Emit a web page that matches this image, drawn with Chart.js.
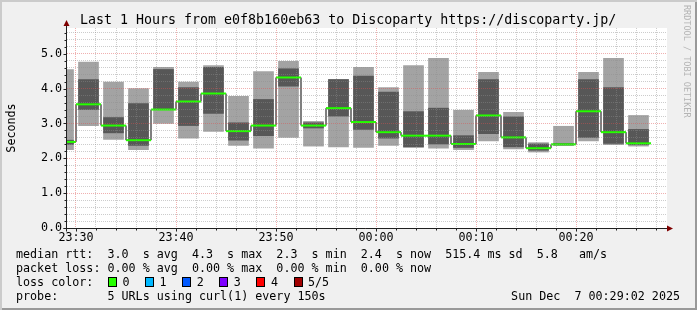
<!DOCTYPE html>
<html>
<head>
<meta charset="utf-8">
<script src="https://cdn.jsdelivr.net/npm/chart.js@4"></script>
<style>
html, body { margin: 0; padding: 0; background: #f0f0f0; }
#quadro { position: relative; width: 697px; height: 310px; background: #f0f0f0; overflow: hidden;
  font-family: "DejaVu Sans Mono", monospace; color: #000; }
#quadro:after { content: ''; position: absolute; left: 0; top: 0; right: 0; bottom: 0; pointer-events: none;
  box-shadow: inset 2px 2px 0 #cbcbcb, inset -2px -2px 0 #999; }
canvas { position: absolute; left: 0; top: 0; }
.txt { position: absolute; white-space: pre; font-size: 11.7px; line-height: 14px; }
.caixa { position: absolute; width: 7px; height: 8px; border: 1px solid #000; top: 277px; }
</style>
</head>
<body>
<div id="quadro">
  <canvas id="grafico" width="697" height="310"></canvas>
  <div class="txt" style="left:80px;top:12px;font-size:13.3px;line-height:16px">Last 1 Hours from e0f8b160eb63 to Discoparty https://discoparty.jp/</div>
  <div class="txt" style="left:-14px;top:121px;transform:rotate(-90deg);transform-origin:50% 50%;width:50px;text-align:center">Seconds</div>
  <div class="txt" style="left:682px;top:5px;font-size:8.5px;line-height:10px;color:#b4b4b4;writing-mode:vertical-rl">RRDTOOL / TOBI OETIKER</div>
  <div class="txt" style="left:16px;top:247px">median rtt:  3.0  s avg  4.3  s max  2.3  s min  2.4  s now  515.4 ms sd  5.8   am/s</div>
  <div class="txt" style="left:16px;top:261px">packet loss: 0.00 % avg  0.00 % max  0.00 % min  0.00 % now</div>
  <div class="txt" style="left:16px;top:275px">loss color:</div>
  <div id="perdas"></div>
  <div class="txt" style="left:16px;top:289px">probe:       5 URLs using curl(1) every 150s</div>
  <div class="txt" style="right:17px;top:289px">Sun Dec  7 00:29:02 2025</div>
</div>
<script>
// minutos depois das 23:00, inicio de cada coluna de 150s
const inicioColuna = [27.5, 30, 32.5, 35, 37.5, 40, 42.5, 45, 47.5, 50, 52.5, 55,
                      57.5, 60, 62.5, 65, 67.5, 70, 72.5, 75, 77.5, 80, 82.5, 85];
const fimUltima = 87.5;

// fumaca (segundos)
const claroMax = [4.55, 4.76, 4.19, 4.00, 4.61, 4.19, 4.66, 3.78, 4.49, 4.78, 3.06, 4.27,
                  4.61, 4.03, 4.66, 4.87, 3.38, 4.47, 3.32, 2.45, 2.92, 4.47, 4.87, 3.23];
const escuroMax = [2.52, 4.26, 3.17, 3.57, 4.55, 4.03, 4.61, 3.02, 3.69, 4.57, 3.02, 4.26,
                   4.36, 3.90, 3.34, 3.44, 2.65, 4.26, 3.19, 2.41, 2.42, 4.26, 4.03, 2.83];
const mediana = [2.47, 3.55, 2.94, 2.52, 3.40, 3.63, 3.86, 2.78, 2.94, 4.32, 2.94, 3.44,
                 3.04, 2.75, 2.65, 2.65, 2.41, 3.23, 2.60, 2.29, 2.40, 3.35, 2.75, 2.43];
const escuroMin = [2.40, 3.40, 2.73, 2.37, 3.40, 2.94, 3.29, 2.52, 2.65, 4.07, 2.87, 3.21,
                   2.83, 2.58, 2.33, 2.41, 2.31, 2.71, 2.33, 2.23, 2.38, 2.60, 2.43, 2.39];
const claroMin = [2.25, 2.94, 2.54, 2.25, 3.00, 2.58, 2.77, 2.37, 2.29, 2.60, 2.35, 2.33,
                  2.31, 2.37, 2.31, 2.29, 2.25, 2.50, 2.27, 2.18, 2.37, 2.50, 2.39, 2.35];

// eixo x
const horasValor = [30, 40, 50, 60, 70, 80];
const horasRotulo = ['23:30', '23:40', '23:50', '00:00', '00:10', '00:20'];

// legenda de perda
const perdaRotulo = ['0', '1', '2', '3', '4', '5/5'];
const perdaCor = ['#26ff00', '#00b8ff', '#0059ff', '#7e00ff', '#ff0000', '#a10000'];

const fonte = { family: 'DejaVu Sans Mono', size: 11.7 };
const corGrade = 'rgba(143,143,143,0.45)';
const corGradeMaior = 'rgba(222,80,80,0.45)';

let legenda = '';
perdaRotulo.forEach((r, i) => {
    const x = 108 + i * 37.1;
    legenda += '<span class="caixa" style="left:' + x + 'px;background:' + perdaCor[i] + '"></span>';
    legenda += '<span class="txt" style="left:' + (x + 14.5) + 'px;top:275px">' + r + '</span>';
});
document.getElementById('perdas').innerHTML = legenda;

const largura = 2.5;
const centro = inicioColuna.map(s => s + largura / 2);

const degrau = inicioColuna.map((s, i) => ({ x: s, y: mediana[i] }));
degrau.push({ x: fimUltima, y: mediana[mediana.length - 1] });

// so os tracos horizontais ficam verdes
const verde = [];
inicioColuna.forEach((s, i) => {
    verde.push({ x: s, y: mediana[i] });
    verde.push({ x: s + largura, y: mediana[i] });
});

const eixos = {
    id: 'eixos',
    beforeDraw(chart) {
        const { ctx, chartArea: a } = chart;
        ctx.save();
        ctx.fillStyle = '#fff';
        ctx.fillRect(a.left, a.top, a.right - a.left, a.bottom - a.top);
        ctx.restore();
    },
    afterDraw(chart) {
        const { ctx, chartArea: a, scales } = chart;
        const x0 = a.left - 0.5;
        const y0 = a.bottom + 0.5;
        ctx.save();
        ctx.strokeStyle = '#202020';
        ctx.lineWidth = 1;
        ctx.beginPath();
        scales.y.ticks.forEach(t => {
            const y = Math.round(scales.y.getPixelForValue(t.value)) + 0.5;
            const len = t.label ? 3 : 2;
            ctx.moveTo(x0 - len, y);
            ctx.lineTo(x0, y);
        });
        scales.x.ticks.forEach(t => {
            const x = Math.round(scales.x.getPixelForValue(t.value)) + 0.5;
            const len = t.label ? 3 : 2;
            ctx.moveTo(x, y0);
            ctx.lineTo(x, y0 + len);
        });
        ctx.moveTo(x0, y0 + 3);
        ctx.lineTo(x0, a.top - 2);
        ctx.moveTo(x0 - 3, y0);
        ctx.lineTo(a.right + 1, y0);
        ctx.stroke();
        ctx.fillStyle = '#7f0000';
        ctx.beginPath();
        ctx.moveTo(x0, a.top - 8);
        ctx.lineTo(x0 - 3, a.top - 2);
        ctx.lineTo(x0 + 3, a.top - 2);
        ctx.closePath();
        ctx.fill();
        ctx.beginPath();
        ctx.moveTo(a.right + 6, y0);
        ctx.lineTo(a.right, y0 - 3);
        ctx.lineTo(a.right, y0 + 3);
        ctx.closePath();
        ctx.fill();
        ctx.restore();
    }
};

const grafico = document.getElementById('grafico').getContext('2d');

new Chart(grafico, {
    type: 'bar',
    data: {
        datasets: [{
            type: 'line',
            data: verde,
            borderColor: perdaCor[0],
            borderWidth: 2,
            borderCapStyle: 'butt',
            pointRadius: 0,
            clip: 0,
            order: 1,
            segment: {
                borderColor: (c) => c.p0.parsed.x === c.p1.parsed.x ? 'rgba(0,0,0,0)' : perdaCor[0]
            }
        }, {
            type: 'line',
            data: degrau,
            stepped: 'before',
            borderColor: '#000',
            borderWidth: 1,
            pointRadius: 0,
            clip: 0,
            order: 2
        }, {
            data: centro.map((c, i) => ({ x: c, y: [escuroMin[i], escuroMax[i]] })),
            backgroundColor: '#575757',
            order: 3
        }, {
            data: centro.map((c, i) => ({ x: c, y: [claroMin[i], claroMax[i]] })),
            backgroundColor: '#a3a3a3',
            order: 4
        }]
    },
    options: {
        responsive: false,
        devicePixelRatio: 1,
        animation: false,
        events: [],
        layout: { padding: { left: 0, top: 28, right: 30, bottom: 62 } },
        datasets: {
            bar: { grouped: false, barPercentage: 1, categoryPercentage: 1, clip: 0, borderWidth: 0 }
        },
        plugins: { legend: { display: false }, tooltip: { enabled: false }, title: { display: false } },
        scales: {
            x: {
                type: 'linear',
                min: 29.1,
                max: 89.1,
                offset: false,
                afterBuildTicks: (s) => {
                    const t = [];
                    for (let v = 30; v <= 88; v += 2) t.push({ value: v });
                    s.ticks = t;
                },
                afterFit: (s) => { s.height = 20; },
                ticks: {
                    autoSkip: false,
                    maxRotation: 0,
                    padding: 3,
                    color: '#000',
                    font: fonte,
                    callback: (v) => {
                        const i = horasValor.indexOf(v);
                        return i >= 0 ? horasRotulo[i] : '';
                    }
                },
                grid: {
                    offset: false,
                    z: 1,
                    drawTicks: false,
                    color: (c) => c.tick && horasValor.includes(c.tick.value) ? corGradeMaior : corGrade
                },
                border: { display: false, dash: [1, 1] }
            },
            y: {
                min: 0,
                max: 5.74,
                afterBuildTicks: (s) => {
                    const t = [];
                    for (let i = 0; i <= 28; i++) t.push({ value: i / 5 });
                    s.ticks = t;
                },
                afterFit: (s) => { s.width = 67; },
                ticks: {
                    autoSkip: false,
                    padding: 5,
                    color: '#000',
                    font: fonte,
                    callback: (v) => Math.abs(v - Math.round(v)) < 1e-6 ? v.toFixed(1) : ''
                },
                grid: {
                    z: 1,
                    drawTicks: false,
                    color: (c) => c.tick && Math.abs(c.tick.value - Math.round(c.tick.value)) < 1e-6 ? corGradeMaior : corGrade
                },
                border: { display: false, dash: [1, 1] }
            }
        }
    },
    plugins: [eixos]
});
</script>
</body>
</html>
